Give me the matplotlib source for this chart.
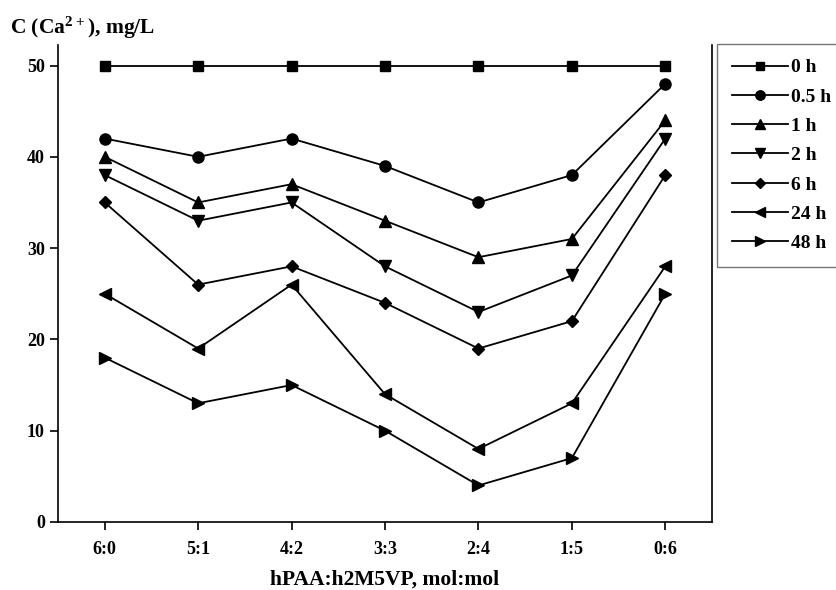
import matplotlib
matplotlib.use("Agg")
import matplotlib.pyplot as plt

plt.rcParams['font.family'] = ['Liberation Serif', 'DejaVu Serif']
plt.rcParams['font.weight'] = 'bold'
plt.rcParams['mathtext.fontset'] = 'custom'
plt.rcParams['mathtext.rm'] = 'Liberation Serif:bold'
plt.rcParams['mathtext.bf'] = 'Liberation Serif:bold'
plt.rcParams['mathtext.default'] = 'bf'

categories = ["6:0", "5:1", "4:2", "3:3", "2:4", "1:5", "0:6"]
labels = ["0 h", "0.5 h", "1 h", "2 h", "6 h", "24 h", "48 h"]
s_0h = [50, 50, 50, 50, 50, 50, 50]
s_05h = [42, 40, 42, 39, 35, 38, 48]
s_1h = [40, 35, 37, 33, 29, 31, 44]
s_2h = [38, 33, 35, 28, 23, 27, 42]
s_6h = [35, 26, 28, 24, 19, 22, 38]
s_24h = [25, 19, 26, 14, 8, 13, 28]
s_48h = [18, 13, 15, 10, 4, 7, 25]
series = [s_0h, s_05h, s_1h, s_2h, s_6h, s_24h, s_48h]
markers = ["s", "o", "^", "v", "D", "<", ">"]
msizes = [7, 8, 8, 8, 6.5, 8, 8]

fig = plt.figure(figsize=(8.36, 5.9), dpi=100)
ax = fig.add_axes([0.0694, 0.1153, 0.7823, 0.8077])
x = list(range(len(categories)))
for vals, m, ms, lab in zip(series, markers, msizes, labels):
    ax.plot(x, vals, marker=m, ms=ms, color='black', lw=1.3, label=lab)

ax.set_xlim(-0.5, 6.5)
ax.set_ylim(0, 52.2)
ax.set_xticks(x)
ax.set_xticklabels(categories)
ax.set_yticks([0, 10, 20, 30, 40, 50])
ax.spines['top'].set_visible(False)
for s in ['left', 'right', 'bottom']:
    ax.spines[s].set_linewidth(1.2)
ax.tick_params(axis='both', direction='out', length=6, width=1.2, labelsize=13)
ax.tick_params(axis='x', pad=8)
for t in ax.get_xticklabels() + ax.get_yticklabels():
    t.set_fontweight('bold')

ax.set_xlabel("hPAA:h2M5VP, mol:mol", fontsize=15.5, fontweight='bold', labelpad=8)
fig.text(0.012, 0.952, r"C (Ca$^{2+}$), mg/L", fontsize=15.5, fontweight='bold',
         ha='left', va='center')

leg = fig.legend(loc='upper left', bbox_to_anchor=(0.858, 0.925), frameon=True,
                 fancybox=False, edgecolor='#555555', fontsize=14,
                 handlelength=2.9, labelspacing=0.6, handletextpad=0.15,
                 borderpad=0.75, borderaxespad=0, markerscale=0.85)
leg.get_frame().set_linewidth(1.0)
for t in leg.get_texts():
    t.set_fontweight('bold')

fig.savefig("out.png", dpi=100)
